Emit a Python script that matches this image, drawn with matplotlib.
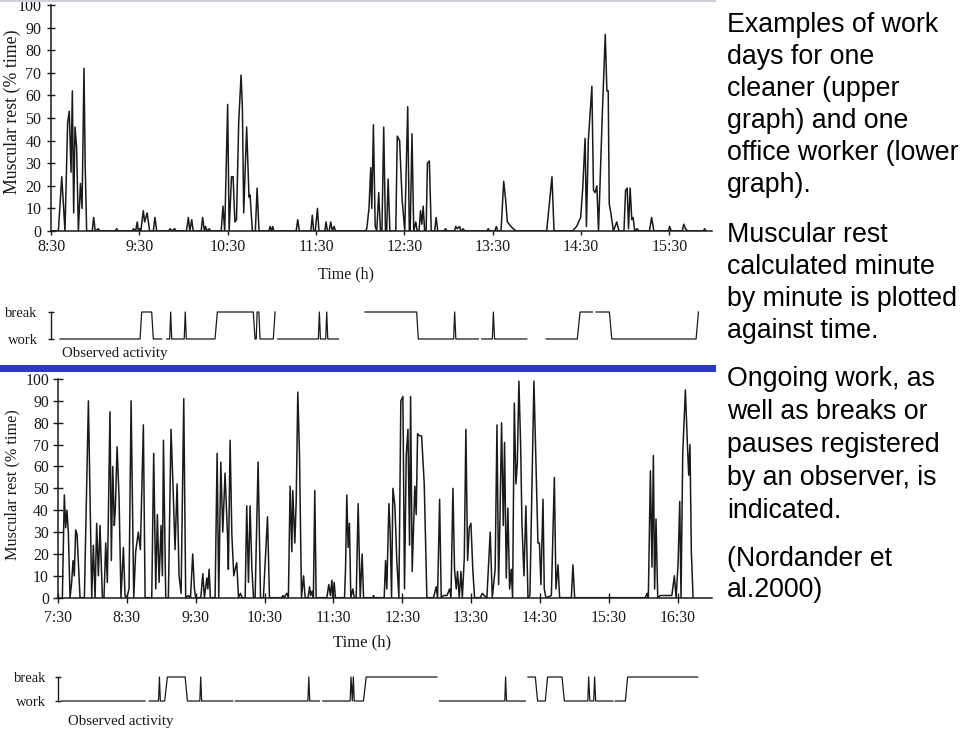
import numpy as np
import matplotlib
matplotlib.use("Agg")
import matplotlib.pyplot as plt
from matplotlib.patches import Rectangle

W, H = 960, 730
SERIF = "Liberation Serif"
SANS = "Liberation Sans"
INK = "#1a1a1a"

# cleaner: minutes after 8:30, muscular rest (% time)
cleaner_min = [0, 5, 7.3, 9.5, 11.3, 12.4, 13.6, 14.5, 15.4, 16.3, 17.4, 18.6, 20, 21.1, 22.4, 23.2, 24.2,
               28, 29, 30, 32.1, 33, 43.5, 44.6, 45.6, 55, 56, 57.5, 58.6, 59.3, 60.2, 61, 62.7, 63.6, 65.3,
               67, 69.5, 70.6, 71.8, 80, 80.9, 82, 84, 85, 92, 93.3, 94.3, 95.6, 96.6, 102, 103, 104.2, 105,
               106, 107.5, 108.5, 115.6, 116.8, 118, 120, 121, 122.6, 123.7, 124.9, 126, 127.5, 129.1, 130,
               130.9, 132.9, 134.5, 135.2, 136.8, 138.8, 140, 141.3, 148, 148.8, 149.8, 150.6, 151.4, 166.5,
               167.6, 168.7, 176.5, 177.5, 178.4, 179.5, 181, 182, 186, 186.8, 187.8, 189, 190, 191.2, 192.3,
               193.3, 213.5, 214.5, 216, 217.2, 217.9, 219, 220.2, 221.3, 222.6, 223.8, 224.8, 226, 227.2,
               228, 229, 230.2, 234.2, 235.2, 236.8, 238.5, 239.3, 240.3, 242.3, 243.4, 244, 245.2, 246.4,
               247.8, 248.7, 250, 251, 251.9, 252.8, 253.8, 254.8, 255.7, 257, 258.3, 260.6, 261.6, 262.7,
               267, 268, 269, 274, 275, 276, 277.5, 278.5, 280, 281, 296, 297, 298, 301.5, 302.5, 303.5,
               305.7, 307.5, 308.8, 310, 312.5, 314, 316, 336.7, 340.3, 341.7, 354.2, 357, 359.8, 361.2,
               362.8, 363.7, 365, 367.4, 368.5, 369.6, 370.8, 371.9, 374.4, 376.5, 377.6, 378.5, 379.2,
               380.3, 382, 384.3, 385.8, 389.2, 390.3, 391.4, 392.3, 393.4, 394.5, 395.4, 396.5, 398, 399.5,
               406.5, 408, 409.5, 419.3, 420.3, 421.3, 428.8, 429.8, 431, 432.5, 443, 444, 445]
cleaner_rest = [0, 0, 24, 0, 48, 53, 26, 62, 8, 46, 37, 0, 21, 10, 72, 30, 0,
                0, 6, 0, 1, 0, 0, 1, 0, 0, 1, 0, 4, 0, 1, 0, 9, 4, 8,
                0, 0, 6, 0, 0, 1, 0, 1, 0, 0, 6, 0, 5, 0, 0, 6, 0, 2,
                0, 1, 0, 0, 11, 0, 56, 0, 24, 24, 4, 5, 48, 69, 55,
                8, 46, 15, 16, 0, 0, 19, 0, 0, 2, 0, 2, 0, 0,
                5, 0, 0, 7, 0, 0, 10, 0, 0, 4, 0, 0, 4, 0, 2,
                0, 0, 1, 10, 28, 10, 47, 2, 0, 17, 0, 0, 46, 0,
                0, 23, 0, 0, 42, 40, 14, 8, 0, 55, 0, 0, 43, 0,
                4, 0, 0, 9, 3, 11, 0, 0, 30, 31, 0, 0, 6, 0,
                0, 1, 0, 0, 2, 1, 2, 0, 1, 0, 0, 1, 0, 0, 2, 0,
                0, 22, 14, 4, 2, 1, 0, 0, 24, 0, 0, 2, 6, 19,
                41, 2, 40, 64, 18, 17, 20, 0, 50, 87, 62, 62, 12,
                8, 0, 4, 0, 0, 18, 19, 1, 19, 5, 6, 0, 1, 0,
                0, 6, 0, 0, 2, 0, 0, 3, 1, 0, 0, 1, 0]

# office worker: minutes after 7:30
office_min = [3.8, 5.5, 6.7, 7.8, 9, 10.5, 11.9, 13.1, 14.2, 15.4, 16.6, 19.2, 23, 26.5, 29.4, 30.8, 32.3,
              33.7, 35.2, 36.6, 38.7, 40.1, 41.6, 43, 45.3, 46.5, 47.7, 49.1, 50, 51.5, 53.2, 54.9, 57,
              58.4, 60, 61.9, 63.7, 66, 67.7, 70, 71.8, 74.4, 75.9, 81.7, 83.4, 85.2, 86.6, 88.1, 89.8, 91,
              91.9, 93.9, 96.2, 98.5, 100.3, 102, 103.8, 105.5, 107.3, 109.6, 111.3, 113.7, 115.5, 117.4,
              118.9, 120, 124.5, 126.2, 127.6, 129.7, 130.6, 131.7, 132.8, 136.9, 138.7, 140.1, 141.9,
              143.6, 145.6, 147.7, 148.5, 150, 151.5, 153.2, 154.4, 155.8, 157.3, 159, 160.5, 163.1, 164.5,
              166, 167.4, 169, 170.4, 171.8, 174.4, 176.5, 179, 182.6, 184.3, 195, 196, 197, 199.4, 200.8,
              202.3, 203.8, 204.6, 206.4, 207.6, 209, 210.5, 212.2, 214, 215.4, 218, 219.2, 220.3, 221.5,
              222.6, 223.8, 225, 234.3, 236, 237.4, 238.7, 239.5, 240.7, 241.8, 249.7, 250.6, 251.7, 252.9,
              254, 255.2, 257, 258.2, 259.9, 261.6, 263.4, 265.1, 266.3, 274.5, 275, 275.6, 284.3, 285.5,
              286.6, 288.4, 289.5, 290.7, 291.9, 293.6, 295.3, 297.1, 298.8, 300.6, 302, 303.5, 305, 306.4,
              307.3, 308.7, 309.9, 311, 312.2, 313.4, 315.1, 316.9, 319.2, 321.5, 327.3, 329.6, 330.8,
              332.6, 334, 336, 339, 341.3, 342.5, 344.2, 345.6, 347.1, 348.2, 349.7, 351.2, 352.4, 354.1,
              355.5, 357, 358.4, 359.9, 361.6, 363.1, 368, 369.8, 371.5, 373.8, 376.7, 378.5, 381, 382.6,
              384, 385.2, 386.6, 388.1, 389.2, 390.7, 392.1, 393.6, 395, 396.2, 397.7, 399.1, 400.3, 401.7,
              403.2, 404.4, 406.1, 407.8, 409.6, 411.3, 414.8, 418.3, 419.6, 420.9, 422.7, 423.8, 425.3,
              430, 432.6, 434, 435.8, 437.2, 447.4, 448.8, 450.3, 511.9, 513.4, 514.5, 516.3, 517.7, 518.9,
              520, 521.2, 522.7, 525, 530, 535, 537.2, 538.7, 540.4, 541.9, 543, 544.5, 546.8, 548.5,
              549.7, 550.8, 552, 553.5]
office_rest = [0, 47, 32, 40, 30, 0, 7, 17, 10, 31, 29, 0, 0, 90, 0, 24, 0,
               34, 10, 33, 0, 0, 25, 7, 85, 17, 60, 33, 41, 69, 46, 0, 23,
               1, 0, 4, 90, 0, 21, 30, 22, 79, 0, 0, 66, 4, 38, 7, 33, 10,
               72, 0, 0, 77, 50, 22, 52, 10, 2, 91, 0, 1, 0, 20,
               4, 0, 0, 11, 0, 9, 4, 13, 0, 0, 66, 0, 62,
               30, 57, 29, 13, 72, 29, 10, 13, 16, 0, 2, 0, 0, 42,
               7, 42, 13, 0, 0, 62, 0, 0, 37, 0, 0, 1, 0, 2, 0,
               51, 21, 49, 25, 44, 94, 65, 0, 10, 0, 0, 5, 1, 3,
               0, 49, 0, 0, 6, 1, 8, 0, 7, 0, 0, 13, 47, 23,
               34, 0, 4, 0, 0, 43, 0, 20, 0, 0, 1, 0, 0, 17,
               4, 43, 30, 0, 50, 42, 17, 0, 90, 92, 4, 65, 77, 24,
               92, 12, 32, 51, 38, 75, 74, 74, 52, 0, 0, 5, 0,
               45, 0, 1, 1, 4, 0, 50, 13, 4, 12, 0, 12, 0, 18,
               77, 17, 32, 34, 12, 0, 0, 2, 1, 0, 30, 0, 13, 79,
               6, 36, 80, 33, 71, 9, 41, 4, 13, 0, 89, 52, 61, 99,
               70, 33, 10, 42, 0, 1, 99, 25, 25, 6, 45, 4, 0,
               1, 55, 4, 15, 0, 0, 15, 0, 0, 2, 0, 58, 14, 65,
               4, 36, 0, 1, 1, 1, 10, 0, 15, 44, 0, 66, 95, 71,
               56, 70, 21, 0]

# observed activity: 1 = break, 0 = work, None = not observed
cleaner_obs_min = [6.1, 60.5, 61.6, 68.4, 69.5, 75.2, None,
                   78.6, 80.6, 81.3, 82, 90.5, 91.2, 91.9, 111.4, 113, 137.4, 138.6, 139.4, 140, 141.2, 142,
                   151, 152.2, None,
                   154, 181.6, 182.3, 183, 186.6, 187.3, 188, 195.2, None,
                   213.3, 248.4, 249.5, 273.5, 274.2, 275, 290.3, None,
                   292.6, 299.8, 300.5, 301.3, 323.2, None,
                   336.3, 357.5, 359.4, 367.8, None,
                   370.2, 379.3, 380.9, 438.2, 439.8]
cleaner_obs = [0, 0, 1, 1, 0, 0, None,
               0, 0, 1, 0, 0, 1, 0, 0, 1, 1, 0, 0, 1, 1, 0,
               0, 1, None,
               0, 0, 1, 0, 0, 1, 0, 0, None,
               1, 1, 0, 0, 1, 0, 0, None,
               0, 0, 1, 0, 0, None,
               0, 0, 1, 1, None,
               1, 1, 0, 0, 1]

office_obs_min = [3.2, 75.9, None,
                  79.6, 87.6, 88.4, 89.2, 93, 95.3, 110.8, 112.8, 123.6, 124.4, 125.2, 152.3, None,
                  154.6, 217.8, 218.6, 219.4, 227.9, None,
                  230.8, 254.6, 255.4, 256.5, 257.4, 258.2, 266.2, 268.6, 330.2, None,
                  332.5, 389.4, 390.1, 390.9, 407.3, None,
                  409.6, 416, 418, 424.7, 426.7, 439.3, 441.3, 461.8, 462.5, 463.5, 466.9, 467.7, 468.6,
                  483.7, None,
                  485.7, 494.5, 496.5, 557.5]
office_obs = [0, 0, None,
              0, 0, 1, 0, 0, 1, 1, 0, 0, 1, 0, 0, None,
              0, 0, 1, 0, 0, None,
              0, 0, 1, 0, 1, 0, 0, 1, 1, None,
              0, 0, 1, 0, 0, None,
              1, 1, 0, 0, 1, 1, 0, 0, 1, 0, 0, 1, 0,
              0, None,
              0, 0, 1, 1]

cleaner_ticks = ["8:30", "9:30", "10:30", "11:30", "12:30", "13:30", "14:30", "15:30"]
office_ticks = ["7:30", "8:30", "9:30", "10:30", "11:30", "12:30", "13:30", "14:30", "15:30", "16:30"]

notes = [("Examples of work", 31.7), ("days for one", 63.7), ("cleaner (upper", 95.7),
         ("graph) and one", 127.7), ("office worker (lower", 159.7), ("graph).", 191.7),
         ("Muscular rest", 241.7), ("calculated minute", 274), ("by minute is plotted", 306.2),
         ("against time.", 338.4),
         ("Ongoing work, as", 386), ("well as breaks or", 419), ("pauses registered", 452),
         ("by an observer, is", 485), ("indicated.", 518),
         ("(Nordander et", 566), ("al.2000)", 597)]


def box(x0, y0, x1, y1):
    # pixel box measured from the top-left corner -> figure fraction
    return [x0 / W, 1 - y1 / H, (x1 - x0) / W, (y1 - y0) / H]


def nums(values):
    return np.array([np.nan if v is None else v for v in values], dtype=float)


def rest_panel(rect, t, v, xmax, labels, ylen, ypad, xdir, xlen, xpad, fs):
    ax = fig.add_axes(rect)
    ax.plot(t, v, color=INK, lw=1.1)
    ax.set_xlim(0, xmax)
    ax.set_ylim(0, 100)
    for s in ("top", "right"):
        ax.spines[s].set_visible(False)
    for s in ("left", "bottom"):
        ax.spines[s].set_linewidth(1.1)
        ax.spines[s].set_color(INK)
    ax.set_yticks(range(0, 101, 10))
    ax.set_xticks(np.arange(len(labels)) * 60)
    ax.set_xticklabels(labels)
    ax.tick_params(axis="y", direction="inout", length=ylen, width=1.0, pad=ypad, labelsize=fs, colors=INK)
    ax.tick_params(axis="x", direction=xdir, length=xlen, width=1.0, pad=xpad, labelsize=fs, colors=INK)
    for lab in ax.get_xticklabels() + ax.get_yticklabels():
        lab.set_family(SERIF)
    ax.patch.set_alpha(0)
    return ax


def activity_panel(rect, t, s, xmax, pad):
    ax = fig.add_axes(rect)
    ax.plot(nums(t), nums(s), color=INK, lw=0.9, clip_on=False)
    ax.set_xlim(0, xmax)
    ax.set_ylim(0, 1)
    for side in ("top", "right", "bottom"):
        ax.spines[side].set_visible(False)
    ax.spines["left"].set_linewidth(1.0)
    ax.spines["left"].set_color(INK)
    ax.set_xticks([])
    ax.set_yticks([0, 1])
    ax.set_yticklabels(["work", "break"])
    ax.tick_params(axis="y", direction="inout", length=5, width=1.0, pad=pad, labelsize=10.5, colors=INK)
    for lab in ax.get_yticklabels():
        lab.set_family(SERIF)
    ax.patch.set_alpha(0)
    return ax


fig = plt.figure(figsize=(W / 100, H / 100), dpi=100)
fig.patch.set_facecolor("white")

# upper graph: cleaner
rest_panel(box(51, 5, 712, 231), cleaner_min, cleaner_rest, 449, cleaner_ticks,
           6, 4, "out", 3, 3, 11.5)
fig.text(12 / W, 1 - 112 / H, "Muscular rest (% time)", rotation=90, ha="center", va="center",
         family=SERIF, fontsize=12.8, color=INK)
fig.text(346 / W, 1 - 274 / H, "Time (h)", ha="center", va="center", family=SERIF, fontsize=11.5, color=INK)
activity_panel(box(51, 312, 712, 339), cleaner_obs_min, cleaner_obs, 449, 7)
fig.text(62 / W, 1 - 354 / H, "Observed activity", ha="left", va="center", family=SERIF,
         fontsize=10.7, color=INK)

# lower graph: office worker
rest_panel(box(58, 379, 712, 597.7), office_min, office_rest, 570, office_ticks,
           7, 3, "inout", 7, 5, 11.3)
fig.text(12 / W, 1 - 485 / H, "Muscular rest (% time)", rotation=90, ha="center", va="center",
         family=SERIF, fontsize=11.7, color=INK)
fig.text(362 / W, 1 - 642 / H, "Time (h)", ha="center", va="center", family=SERIF, fontsize=12, color=INK)
activity_panel(box(58, 677, 712, 701), office_obs_min, office_obs, 570, 6)
fig.text(68 / W, 1 - 721 / H, "Observed activity", ha="left", va="center", family=SERIF,
         fontsize=10.7, color=INK)

# slide decoration
fig.add_artist(Rectangle((0, 1 - 372 / H), 716 / W, 7 / H, transform=fig.transFigure,
                         facecolor="#2f3bbf", edgecolor="none"))
fig.add_artist(Rectangle((0, 1 - 2 / H), 716 / W, 2 / H, transform=fig.transFigure,
                         facecolor="#cfcfdc", edgecolor="none"))

for line, base in notes:
    fig.text(727 / W, 1 - base / H, line, ha="left", va="baseline", family=SANS, fontsize=19.3, color="black")

fig.savefig("out.png", dpi=100)
